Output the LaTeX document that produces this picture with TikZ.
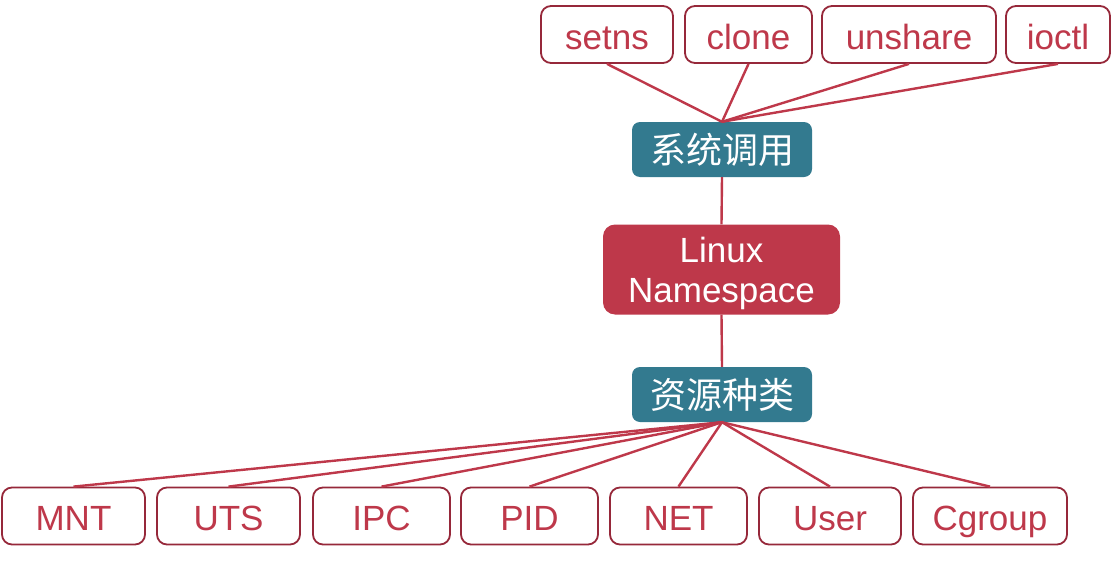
\documentclass[tikz,border=0pt]{standalone}
\usepackage{fontspec}
\setmainfont{Liberation Sans}
\newfontfamily\cjk{Noto Sans CJK SC}
\definecolor{nsred}{HTML}{BE384A}
\definecolor{nsdark}{HTML}{96283A}
\definecolor{nsteal}{HTML}{337A8F}
\begin{document}
\begin{tikzpicture}[x=1pt,y=-1pt,
  outbox/.style={draw=nsdark,line width=1.8pt,rounded corners=10pt,fill=white,text=nsred,
    inner sep=0pt,minimum height=57pt,text height=29pt,text depth=0pt,
    font=\fontsize{35}{40}\selectfont},
  tealbox/.style={fill=nsteal,rounded corners=8pt,text=white,inner sep=0pt,
    minimum width=180pt,minimum height=55pt,font=\cjk\fontsize{36}{40}\selectfont},
  redbox/.style={fill=nsred,rounded corners=12pt,text=white,inner sep=0pt,align=center,
    minimum width=237pt,minimum height=90pt,text depth=0pt,font=\fontsize{35}{40}\selectfont},
  link/.style={draw=nsred,line width=2.4pt}]
\useasboundingbox (0,0) rectangle (1112,562);
% top boxes
\node[outbox,minimum width=132pt] (setns) at (607,34.5) {setns};
\node[outbox,minimum width=127pt] (clone) at (748.5,34.5) {clone};
\node[outbox,minimum width=174pt] (unshare) at (909,34.5) {unshare};
\node[outbox,minimum width=104pt] (ioctl) at (1058,34.5) {ioctl};
% middle
\node[tealbox] (sys) at (722,149.5) {系统调用};
\node[redbox] (linux) at (721.5,269.5) {Linux\\Namespace};
\node[tealbox] (res) at (722,394.5) {资源种类};
% bottom boxes
\node[outbox,minimum width=143pt] (mnt) at (73.5,516) {MNT};
\node[outbox,minimum width=143pt] (uts) at (228.5,516) {UTS};
\node[outbox,minimum width=137pt] (ipc) at (381.5,516) {IPC};
\node[outbox,minimum width=137pt] (pid) at (529.5,516) {PID};
\node[outbox,minimum width=137pt] (net) at (678.5,516) {NET};
\node[outbox,minimum width=142pt] (user) at (830,516) {User};
\node[outbox,minimum width=154pt] (cgroup) at (990,516) {Cgroup};
% links
\foreach \n in {setns,clone,unshare,ioctl}
  \draw[link] (\n.south) -- (sys.north);
\draw[link] (sys.south) -- (linux.north);
\draw[link] (linux.south) -- (res.north);
\foreach \n in {mnt,uts,ipc,pid,net,user,cgroup}
  \draw[link] (res.south) -- (\n.north);
\end{tikzpicture}
\end{document}
